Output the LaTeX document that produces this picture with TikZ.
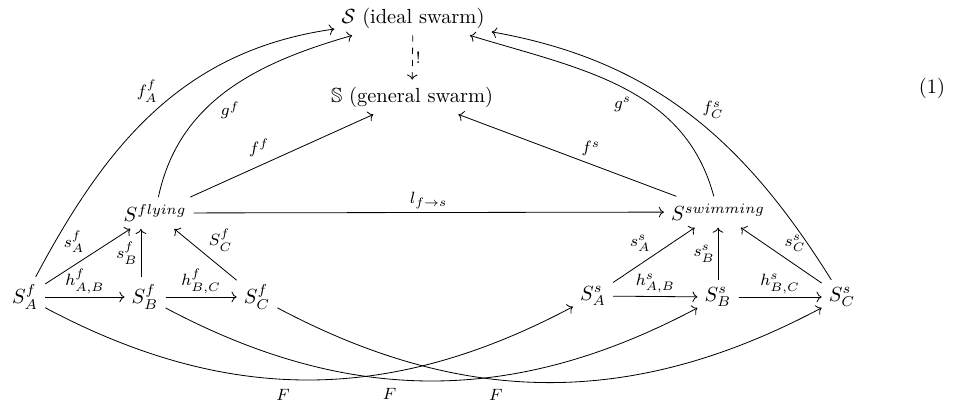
\documentclass[tikz,border=0pt]{standalone}
\usepackage{amssymb}
\usetikzlibrary{arrows.meta}

\begin{document}
\begin{tikzpicture}[x=0.0172cm, y=-0.0172cm,
			map/.style={-{To}, line width=0.4pt},
			lab/.style={font=\footnotesize, inner sep=1.5pt}]
			\useasboundingbox (0,0) rectangle (973,405);
			% top objects
			\node (ideal) at (413,18) {$\mathcal{S}$ (ideal swarm)};
			\node (general) at (412,97) {$\mathbb{S}$ (general swarm)};
			% middle objects
			\node (fly) at (155,213) {$S^{flying}$};
			\node (swim) at (718,212) {$S^{swimming}$};
			% bottom objects
			\node (Af) at (25,297) {$S^f_A$};
			\node (Bf) at (145,297) {$S^f_B$};
			\node (Cf) at (257,297) {$S^f_C$};
			\node (As) at (593,296) {$S^s_A$};
			\node (Bs) at (718,297) {$S^s_B$};
			\node (Cs) at (842,297) {$S^s_C$};
			\node (eqno) at (932,88) {(1)};
			% flying side
			\draw[map] (Af) -- node[lab, above left] {$s^f_A$} (fly);
			\draw[map] ([xshift=-2pt]Bf.north) -- node[lab, left] {$s^f_B$} ([xshift=-2pt]Bf.north |- fly.south);
			\draw[map] (Cf) -- node[lab, above right] {$S^f_C$} (fly);
			\draw[map] (Af) -- node[lab, above] {$h^f_{A,B}$} (Bf);
			\draw[map] (Bf) -- node[lab, above] {$h^f_{B,C}$} (Cf);
			% swimming side
			\draw[map] (As) -- node[lab, above left] {$s^s_A$} (swim);
			\draw[map] (Bs) -- node[lab, left] {$s^s_B$} (swim);
			\draw[map] (Cs) -- node[lab, above right] {$s^s_C$} (swim);
			\draw[map] (As) -- node[lab, above] {$h^s_{A,B}$} (Bs);
			\draw[map] (Bs) -- node[lab, above] {$h^s_{B,C}$} (Cs);
			% across and up
			\draw[map] (fly) -- node[lab, above] {$l_{f\to s}$} (swim);
			\draw[map] (fly) -- node[lab, above left, pos=0.45] {$f^f$} (general);
			\draw[map] (swim) -- node[lab, above right, pos=0.45] {$f^s$} (general);
			\draw[map, dashed] (ideal) -- node[lab, right] {!} (general);
			\draw[map] (Af) to[out=62, in=188] node[lab, above left, pos=0.52] {$f^f_A$} (ideal);
			\draw[map] (fly) to[out=78, in=196] node[lab, below right, pos=0.45] {$g^f$} (ideal);
			\draw[map] (Cs) to[out=122, in=-10] node[lab, above right, pos=0.47] {$f^s_C$} (ideal);
			\draw[map] (swim) to[out=105, in=-17] node[lab, below left, pos=0.45] {$g^s$} (ideal);
			% the F maps
			\draw[map] (Af) to[out=-28, in=208] node[lab, below=3pt, pos=0.45] {$F$} (As);
			\draw[map] (Bf) to[out=-28, in=208] node[lab, below=3pt, pos=0.42] {$F$} (Bs);
			\draw[map] (Cf) to[out=-28, in=208] node[lab, below=3pt, pos=0.4] {$F$} (Cs);
		\end{tikzpicture}
\end{document}
